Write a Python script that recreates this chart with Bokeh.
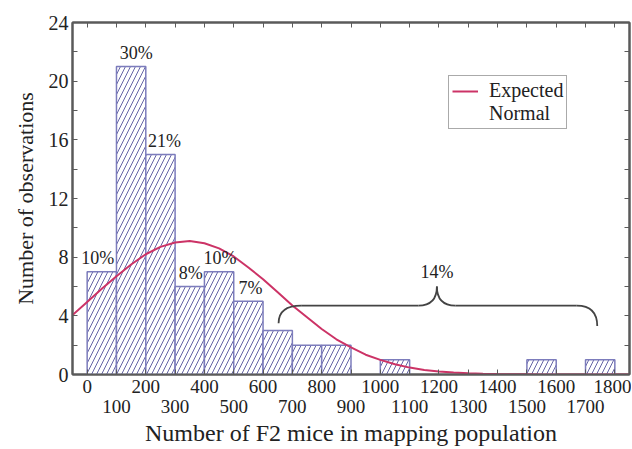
from bokeh.plotting import figure
from bokeh.models import (LinearAxis, FixedTicker, Range1d, ColumnDataSource,
                          Legend, LegendItem)
from bokeh.core.properties import value
from bokeh.embed import file_html
from bokeh.resources import INLINE

# ---- data ----
bin_starts = [0, 100, 200, 300, 400, 500, 600, 700, 800, 1000, 1500, 1700]
counts     = [7, 21, 15, 6, 7, 5, 3, 2, 2, 1, 1, 1]
bin_width = 100

pct_text = ["10%", "30%", "21%", "8%", "10%", "7%"]
pct_bins = [0, 100, 200, 300, 400, 500]
pct_counts = [7, 21, 15, 6, 7, 5]
pct_nudge = [-4, 5, 4, 1, 1, 2]

curve_x = [-50, 0, 50, 100, 150, 200, 250, 300, 350, 400, 450, 500, 550, 600,
           650, 700, 750, 800, 850, 900, 950, 1000, 1050, 1100, 1150, 1200,
           1250, 1300, 1350, 1400, 1450, 1500, 1550, 1600, 1650, 1700, 1750,
           1800, 1850]
curve_y = [4.05, 4.95, 5.85, 6.7, 7.5, 8.2, 8.7, 9.0, 9.1, 8.95, 8.6, 8.05,
           7.3, 6.5, 5.6, 4.7, 3.9, 3.1, 2.4, 1.85, 1.35, 1.0, 0.7, 0.47, 0.31,
           0.2, 0.13, 0.08, 0.05, 0.03, 0.02, 0.01, 0.0, 0.0, 0.0, 0.0, 0.0,
           0.0, 0.0]

even_ticks = [0, 200, 400, 600, 800, 1000, 1200, 1400, 1600, 1800]
odd_ticks = [100, 300, 500, 700, 900, 1100, 1300, 1500, 1700]
y_ticks = [0, 4, 8, 12, 16, 20, 24]
y_minor = [2, 6, 10, 14, 18, 22]

FONT = "Liberation Serif"
AX = "#5a5a5a"
TXT = "#222222"

p = figure(width=631, height=448, output_backend="svg", toolbar_location=None,
           x_range=Range1d(-50, 1850), y_range=Range1d(0, 24),
           x_axis_type=None, y_axis_type=None,
           min_border_left=72, min_border_right=2, min_border_top=22,
           min_border_bottom=73)
p.grid.visible = False
p.outline_line_color = AX
p.outline_line_width = 2
p.background_fill_color = "white"

src = ColumnDataSource(dict(left=bin_starts,
                            right=[b + bin_width for b in bin_starts],
                            top=counts))
p.quad(left="left", right="right", top="top", bottom=0, source=src,
       fill_color="white", line_color="#7c7cbc", line_width=1.5,
       hatch_pattern="/", hatch_color="#6464a6", hatch_scale=10,
       hatch_weight=1)

curve = p.line(curve_x, curve_y, line_color="#cc3366", line_width=2)
blank = p.line([], [], line_alpha=0)

p.text(x=[b + bin_width / 2 for b in pct_bins],
       y=[c + 0.25 for c in pct_counts], text=pct_text, x_offset=pct_nudge,
       text_font=value(FONT), text_font_size=value("18px"),
       text_align="center", text_baseline="bottom", text_color=TXT)

# brace over the tail
BR = "#444444"
p.quadratic(x0=[653, 1670, 1130, 1256], y0=[3.5, 4.7, 4.7, 4.7],
            x1=[730, 1740, 1193, 1193], y1=[4.7, 3.3, 6.0, 6.0],
            cx=[653, 1740, 1193, 1193], cy=[4.7, 4.7, 4.7, 4.7],
            line_color=BR, line_width=1.8)
p.segment(x0=[730, 1256], y0=[4.7, 4.7], x1=[1130, 1670], y1=[4.7, 4.7],
          line_color=BR, line_width=1.8)
p.text(x=[1193], y=[6.3], text=["14%"], text_font=value(FONT),
       text_font_size=value("18px"), text_align="center",
       text_baseline="bottom", text_color=TXT)

def style(ax, labels=True):
    ax.axis_line_color = AX
    ax.axis_line_width = 2
    ax.major_tick_line_color = AX
    ax.minor_tick_line_color = AX
    ax.major_tick_in = 5
    ax.major_tick_out = 0
    ax.minor_tick_in = 5
    ax.minor_tick_out = 0
    ax.major_label_text_font = FONT
    ax.major_label_text_font_size = "19px"
    ax.major_label_text_color = TXT
    ax.axis_label_text_font = FONT
    ax.axis_label_text_font_style = "normal"
    ax.axis_label_text_font_size = "22px"
    ax.axis_label_text_color = TXT
    if not labels:
        ax.major_label_text_font_size = "2px"
        ax.major_label_text_color = None
        ax.major_label_standoff = 0

xb1 = LinearAxis(ticker=FixedTicker(ticks=even_ticks, minor_ticks=odd_ticks))
style(xb1)
xb1.major_label_standoff = 5
p.add_layout(xb1, "below")

xb2 = LinearAxis(ticker=FixedTicker(ticks=odd_ticks, minor_ticks=[]),
                 axis_label="Number of F2 mice in mapping population")
style(xb2)
xb2.axis_line_color = None
xb2.major_tick_line_color = None
xb2.minor_tick_line_color = None
xb2.major_label_standoff = 4
xb2.axis_label_standoff = 4
xb2.axis_label_text_font_size = "24px"
p.add_layout(xb2, "below")

yl = LinearAxis(ticker=FixedTicker(ticks=y_ticks, minor_ticks=y_minor),
                axis_label="Number of observations")
style(yl)
yl.major_label_text_font_size = "20px"
yl.major_label_standoff = 4
yl.axis_label_standoff = 8
p.add_layout(yl, "left")

xt = LinearAxis(ticker=FixedTicker(ticks=even_ticks, minor_ticks=odd_ticks))
style(xt, labels=False)
p.add_layout(xt, "above")

yr = LinearAxis(ticker=FixedTicker(ticks=y_ticks, minor_ticks=y_minor))
style(yr, labels=False)
p.add_layout(yr, "right")

legend = Legend(items=[LegendItem(label="Expected", renderers=[curve]),
                       LegendItem(label="Normal", renderers=[blank])],
                location=(376, 245))
legend.border_line_color = "#555555"
legend.border_line_width = 1.5
legend.label_text_font = FONT
legend.label_text_font_size = "20px"
legend.label_text_color = TXT
legend.glyph_width = 26
legend.glyph_height = 18
legend.label_height = 18
legend.label_standoff = 11
legend.spacing = 0
legend.padding = 3
legend.margin = 0
legend.background_fill_alpha = 1
p.add_layout(legend)

open("out.html", "w").write(file_html(p, INLINE))
